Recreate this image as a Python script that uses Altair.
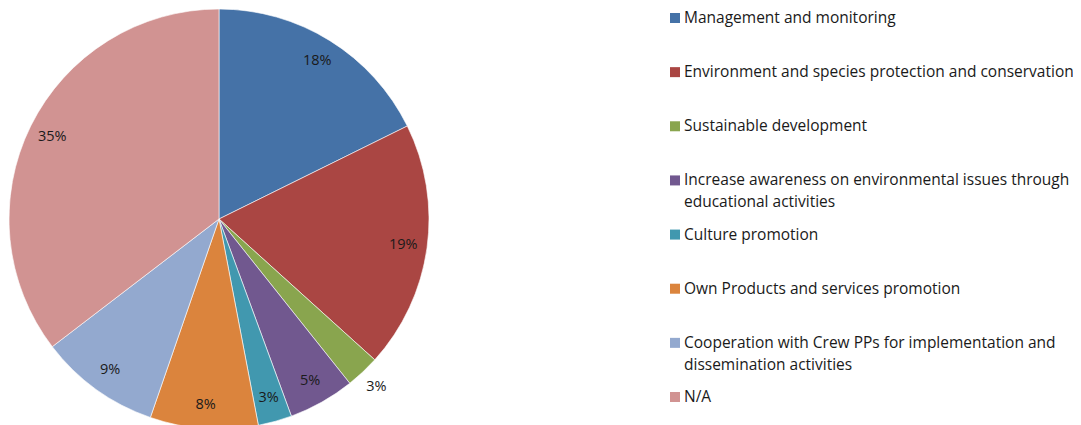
import altair as alt
import pandas as pd

categories = [
    "Management and monitoring",
    "Environment and species protection and conservation",
    "Sustainable development",
    "Increase awareness on environmental issues through educational activities",
    "Culture promotion",
    "Own Products and services promotion",
    "Cooperation with Crew PPs for implementation and dissemination activities",
    "N/A",
]
legend_labels = [
    "Management and monitoring",
    "Environment and species protection and conservation",
    "Sustainable development",
    "Increase awareness on environmental issues through\neducational activities",
    "Culture promotion",
    "Own Products and services promotion",
    "Cooperation with Crew PPs for implementation and\ndissemination activities",
    "N/A",
]
values = [17.7, 19.0, 2.6, 5.1, 2.6, 8.3, 9.3, 35.4]
colors = ["#4572A7", "#AA4643", "#89A54E", "#71588F", "#4198AF", "#DB843D", "#93A9CF", "#D19392"]

df = pd.DataFrame({
    "idx": list(range(len(categories))),
    "category": categories,
    "legend": legend_labels,
    "value": values,
})

FONT = "Open Sans"
CX, CY, R = 211, 211, 210
TWO_PI = 6.283185307179586

color = alt.Color("category:N", scale=alt.Scale(domain=categories, range=colors), legend=None)

base = alt.Chart(df)

arcs = base.mark_arc(stroke="white", strokeWidth=0.6).encode(
    theta=alt.Theta("value:Q", stack=True, scale=alt.Scale(domain=[0, 100], range=[0, TWO_PI])),
    order=alt.Order("idx:Q"),
    color=color,
    x=alt.value(CX), y=alt.value(CY), radius=alt.value(R),
)

lab_base = base.transform_window(
    cum="sum(value)", sort=[{"field": "idx"}], frame=[None, 0]
).transform_calculate(
    mid="datum.cum - datum.value / 2",
    label="format(datum.value, '.0f') + '%'",
)

inner = lab_base.transform_filter(
    "datum.category != 'Sustainable development'"
).mark_text(font=FONT, fontSize=14.5, color="#1a1a1a").encode(
    theta=alt.Theta("mid:Q", stack=None, scale=alt.Scale(domain=[0, 100], range=[0, TWO_PI])),
    text="label:N",
    x=alt.value(CX), y=alt.value(CY), radius=alt.value(186),
)

outer = lab_base.transform_filter(
    "datum.category == 'Sustainable development'"
).mark_text(font=FONT, fontSize=14.5, color="#1a1a1a").encode(
    theta=alt.Theta("mid:Q", stack=None, scale=alt.Scale(domain=[0, 100], range=[0, TWO_PI])),
    text="label:N",
    x=alt.value(CX), y=alt.value(CY), radius=alt.value(230),
)

yenc = alt.Y("category:N", sort=categories, axis=None,
             scale=alt.Scale(type="point", range=[10, 389], padding=0))

squares = base.mark_square(size=100, opacity=1).encode(
    y=yenc, x=alt.value(667), color=color,
)

texts = base.mark_text(font=FONT, fontSize=15.5, align="left", baseline="top", dy=-7,
                       lineBreak="\n", lineHeight=22, color="#1a1a1a").encode(
    y=yenc, x=alt.value(676), text="legend:N",
)

chart = alt.layer(arcs, inner, outer, squares, texts).resolve_scale(
    theta="independent"
).properties(
    width=1065, height=417,
    autosize=alt.AutoSizeParams(type="none"),
    padding=0,
).configure_view(stroke=None)

chart.save("out.html", embed_options={"renderer": "svg", "actions": False})
